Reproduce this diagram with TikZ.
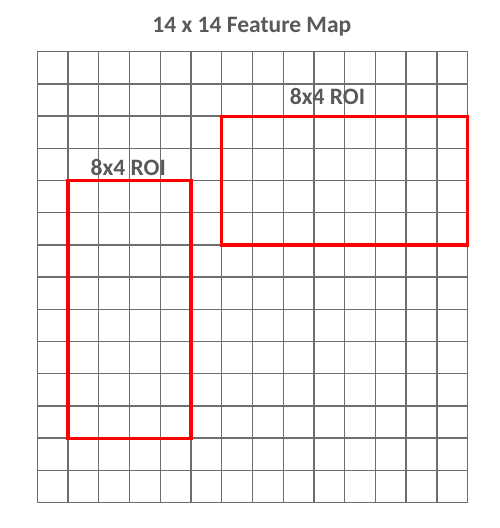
\documentclass[tikz,border=0pt]{standalone}
\usepackage{fontspec}
\setmainfont{Carlito}
\usepackage{tikz}
\definecolor{gridgray}{HTML}{6E6E6E}
\definecolor{textgray}{HTML}{595959}

\begin{document}
\begin{tikzpicture}
  [x=30.74pt,y=-32.2pt,
   gridline/.style={draw=gridgray,line width=1.4pt},
   roi/.style={draw=red,line width=3.2pt},
   lbl/.style={text=textgray,font=\fontsize{23.5}{28}\selectfont\bfseries,anchor=base,inner sep=0pt}]
  \useasboundingbox (-37.3pt,51.7pt) rectangle (462.7pt,-476.3pt);
  % grid
  \foreach \i in {0,...,14} {
    \draw[gridline] (\i,0) -- (\i,14);
    \draw[gridline] (0,\i) -- (14,\i);
  }
  % rois
  \coordinate (roiA1) at (1,4);
  \coordinate (roiA2) at (5,12);
  \coordinate (roiB1) at (6,2);
  \coordinate (roiB2) at (14,6);
  \draw[roi] (roiA1) rectangle (roiA2);
  \draw[roi] (roiB1) rectangle (roiB2);
  \node[lbl] (title) at (6.98,-0.59) {14 x 14 Feature Map};
  \node[lbl] (labelA) at (2.96,3.85) {8x4 ROI};
  \node[lbl] (labelB) at (9.44,1.65) {8x4 ROI};
\end{tikzpicture}
\end{document}
